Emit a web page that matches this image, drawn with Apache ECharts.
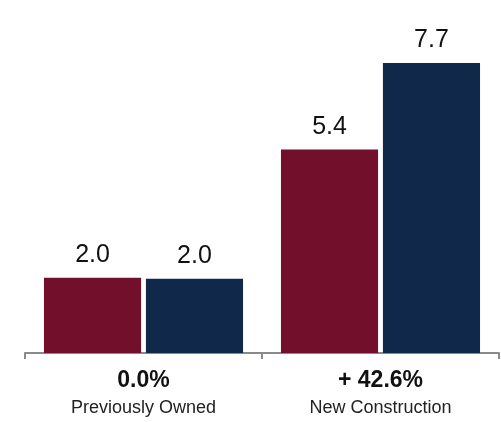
<!DOCTYPE html>
<html>
<head>
<meta charset="utf-8">
<script src="https://cdn.jsdelivr.net/npm/echarts@6/dist/echarts.min.js"></script>
<style>
  html, body { margin: 0; padding: 0; background: #fff; }
  #chart { width: 501px; height: 422px; }
</style>
</head>
<body>
<div id="chart"></div>
<script>
const categories = ['Previously Owned', 'New Construction']
const changes = ['0.0%', '+ 42.6%']
const firstValues = [2.0, 5.4]
const secondValues = [1.97, 7.7]

const chart = echarts.init(document.getElementById('chart'))

const barLabel = {
  show: true,
  position: 'top',
  distance: 10,
  color: '#111',
  fontSize: 25,
  fontFamily: 'Liberation Sans, Arial, sans-serif',
  formatter: p => p.value.toFixed(1)
}

chart.setOption({
  animation: false,
  grid: { left: 25, right: 2, top: 14, bottom: 69 },
  xAxis: {
    type: 'category',
    data: categories,
    axisLine: { lineStyle: { color: '#8a8a8a', width: 2 } },
    axisTick: { show: true, length: 6, lineStyle: { color: '#8a8a8a', width: 2 } },
    axisLabel: {
      margin: 14,
      formatter: (val, i) => '{a|' + changes[i] + '}\n{b|' + val + '}',
      rich: {
        a: { fontSize: 23, fontWeight: 'bold', color: '#111', lineHeight: 28, fontFamily: 'Liberation Sans, Arial, sans-serif' },
        b: { fontSize: 18, color: '#222', lineHeight: 26, fontFamily: 'Liberation Sans, Arial, sans-serif' }
      }
    }
  },
  yAxis: {
    type: 'value',
    min: 0,
    max: 9,
    show: false,
    splitLine: { show: false }
  },
  series: [
    {
      type: 'bar',
      data: firstValues,
      barGap: '5%',
      barCategoryGap: '16%',
      itemStyle: { color: '#72102c' },
      label: barLabel
    },
    {
      type: 'bar',
      data: secondValues,
      itemStyle: { color: '#10294a' },
      label: barLabel
    }
  ]
})
</script>
</body>
</html>
